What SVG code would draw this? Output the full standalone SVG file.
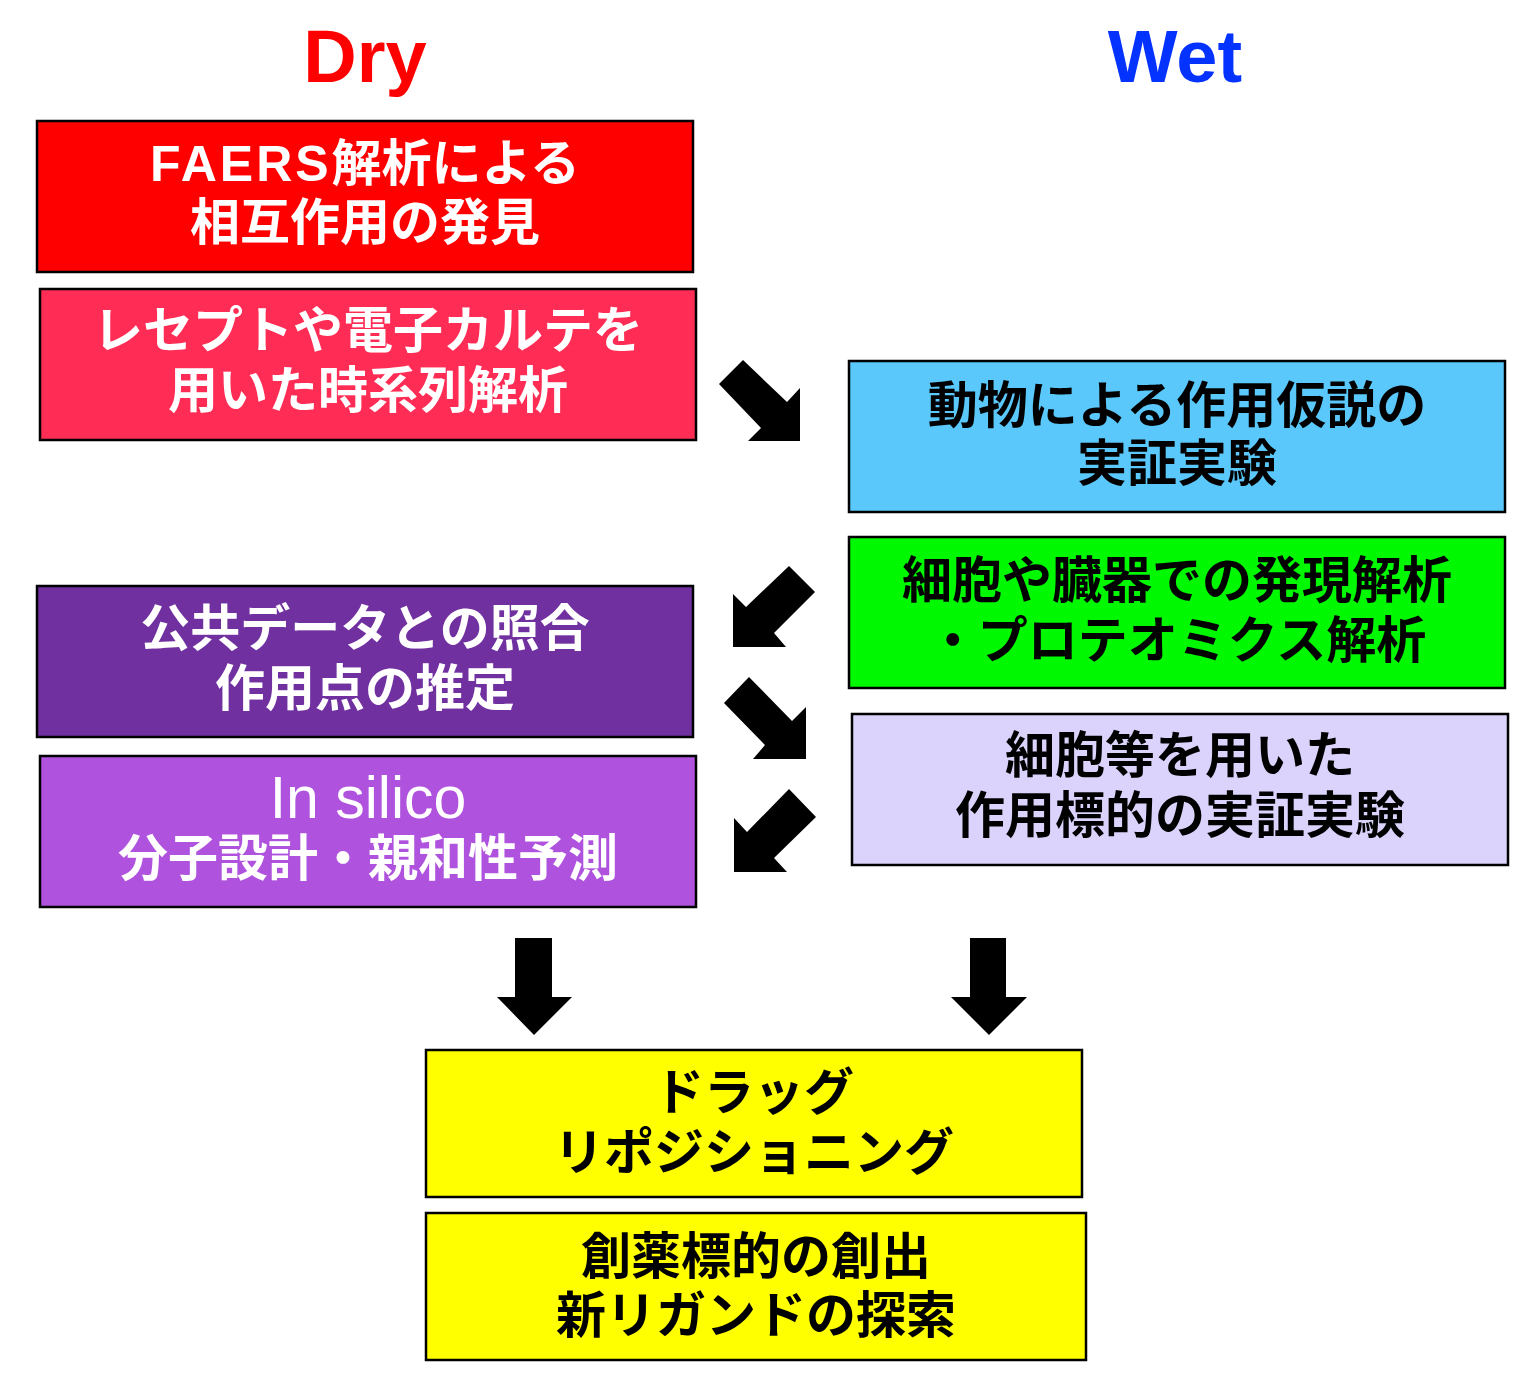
<svg xmlns="http://www.w3.org/2000/svg" width="1529" height="1395" viewBox="0 0 1529 1395">
<style>
.box{stroke:#000;stroke-width:2.5}
.t{font-family:"Liberation Sans","Noto Sans CJK JP",sans-serif;font-weight:bold;font-size:50px;text-anchor:middle}
.w{fill:#fff}
.k{fill:#000}
.h{font-family:"Liberation Sans","Noto Sans CJK JP",sans-serif;font-weight:bold;font-size:74px;text-anchor:middle}
.arr{fill:#000}
</style>
<rect width="1529" height="1395" fill="#fff"/>
<text class="h" x="365" y="82" fill="#FF0000">Dry</text>
<text class="h" x="1175" y="82" fill="#0433FF">Wet</text>

<g id="n1"><rect class="box" x="37" y="121" width="656" height="151" fill="#FF0000"/>
<text class="t w" x="365" y="181"><tspan letter-spacing="3">FAERS</tspan>解析による</text><text class="t w" x="365" y="240">相互作用の発見</text></g>
<g id="n2"><rect class="box" x="40" y="289" width="656" height="151" fill="#FF2D55"/>
<text class="t w" x="368" y="348">レセプトや電子カルテを</text><text class="t w" x="368" y="408">用いた時系列解析</text></g>
<g id="n3"><rect class="box" x="849" y="361" width="656" height="151" fill="#5AC8FA"/>
<text class="t k" x="1177" y="423">動物による作用仮説の</text><text class="t k" x="1177" y="481">実証実験</text></g>
<g id="n4"><rect class="box" x="849" y="537" width="656" height="151" fill="#00F900"/>
<text class="t k" x="1177" y="598">細胞や臓器での発現解析</text><text class="t k" x="1177" y="658">・プロテオミクス解析</text></g>
<g id="n5"><rect class="box" x="37" y="586" width="656" height="151" fill="#7030A0"/>
<text class="t w" x="365" y="646">公共データとの照合</text><text class="t w" x="365" y="706">作用点の推定</text></g>
<g id="n6"><rect class="box" x="852" y="714" width="656" height="151" fill="#DCD3FC"/>
<text class="t k" x="1180" y="773">細胞等を用いた</text><text class="t k" x="1180" y="833">作用標的の実証実験</text></g>
<g id="n7"><rect class="box" x="40" y="756" width="656" height="151" fill="#AF52DE"/>
<text class="t w" x="368" y="818" style="font-weight:normal;font-size:59px">In silico</text><text class="t w" x="368" y="876">分子設計・親和性予測</text></g>
<g id="n8"><rect class="box" x="426" y="1050" width="656" height="147" fill="#FFFF00"/>
<text class="t k" x="754" y="1110">ドラッグ</text><text class="t k" x="754" y="1170">リポジショニング</text></g>
<g id="n9"><rect class="box" x="426" y="1213" width="660" height="147" fill="#FFFF00"/>
<text class="t k" x="756" y="1274">創薬標的の創出</text><text class="t k" x="756" y="1333">新リガンドの探索</text></g>

<g id="connectors" class="arr">
<polygon points="743,360 719,384 761,428 748,441 800,441 800,388 787,402"/>
<polygon points="789,566 815,592 774,633 786,647 733,647 733,594 746,607"/>
<polygon points="749,677 724,703 765,745 753,759 806,759 806,707 792,721"/>
<polygon points="789,789 816,817 774,858 787,872 734,872 734,818 747,832"/>
<polygon points="515,938 552,938 552,997 572,997 534,1035 497,997 515,997"/>
<polygon points="970,938 1006,938 1006,997 1027,997 989,1035 951,997 970,997"/>
</g>
</svg>
